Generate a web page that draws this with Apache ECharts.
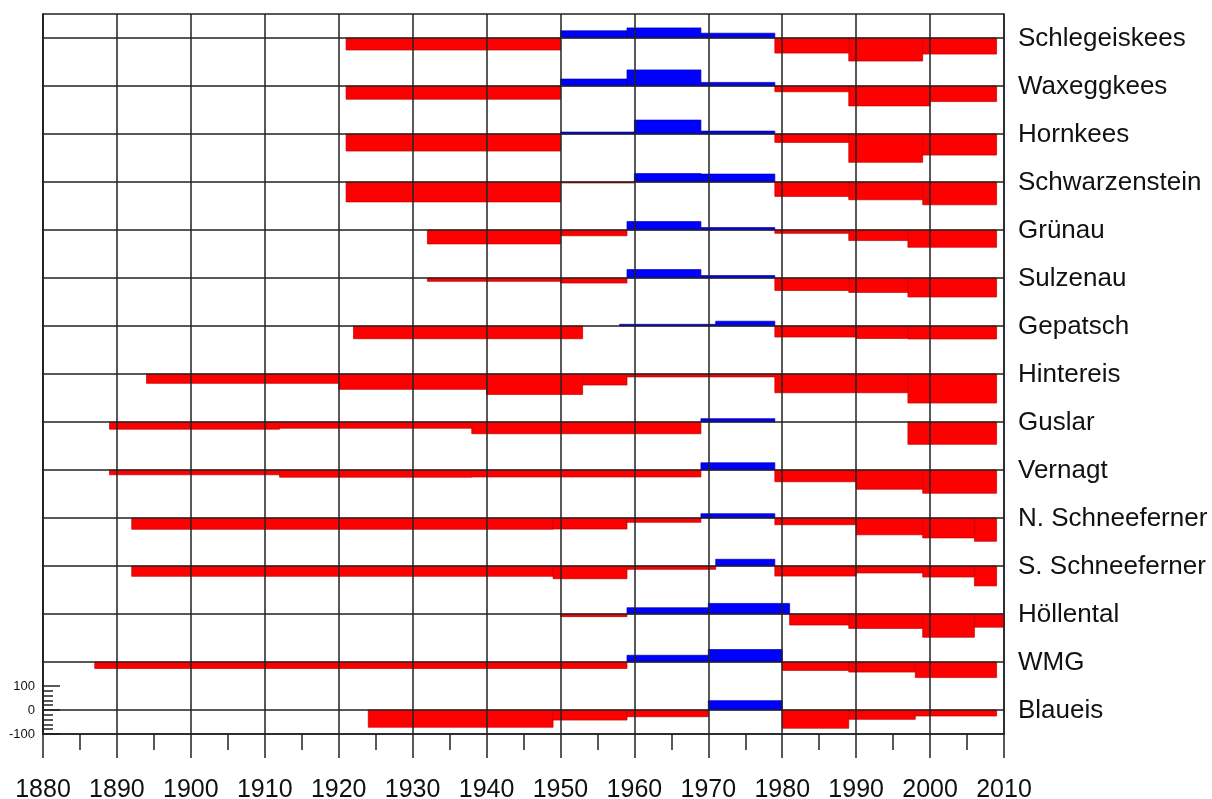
<!DOCTYPE html>
<html><head><meta charset="utf-8">
<script src="https://cdn.jsdelivr.net/npm/echarts@6/dist/echarts.min.js"></script>
<style>html,body{margin:0;padding:0;background:#fff}#c{width:1212px;height:799px}</style>
</head><body><div id="c"></div>
<script>
// Glacier rows, top to bottom
const glaciers = ['Schlegeiskees','Waxeggkees','Hornkees','Schwarzenstein','Grünau','Sulzenau','Gepatsch','Hintereis','Guslar','Vernagt','N. Schneeferner','S. Schneeferner','Höllental','WMG','Blaueis'];

// Periods: [start year, end year, value]
const schlegeiskees = [[1921,1950,-50],[1950,1959,30],[1959,1969,42],[1969,1979,20],[1979,1989,-63],[1989,1999,-96],[1999,2009,-67]];
const waxeggkees = [[1921,1950,-55],[1950,1959,29],[1959,1969,67],[1969,1979,15],[1979,1989,-24],[1989,2000,-83],[2000,2009,-65]];
const hornkees = [[1921,1950,-71],[1950,1960,8],[1960,1969,58],[1969,1979,12],[1979,1989,-35],[1989,1999,-118],[1999,2009,-88]];
const schwarzenstein = [[1921,1950,-83],[1950,1960,-4],[1960,1969,35],[1969,1979,33],[1979,1989,-60],[1989,1999,-74],[1999,2009,-95]];
const gruenau = [[1932,1950,-58],[1950,1959,-24],[1959,1969,35],[1969,1979,10],[1979,1989,-14],[1989,1997,-44],[1997,2009,-72]];
const sulzenau = [[1932,1950,-14],[1950,1959,-21],[1959,1969,35],[1969,1979,10],[1979,1989,-52],[1989,1997,-60],[1997,2009,-79]];
const gepatsch = [[1922,1953,-53],[1958,1971,7],[1971,1979,20],[1979,1990,-46],[1990,1997,-52],[1997,2009,-54]];
const hintereis = [[1894,1920,-39],[1920,1940,-64],[1940,1953,-85],[1953,1959,-46],[1959,1979,-12],[1979,1997,-78],[1997,2009,-121]];
const guslar = [[1889,1912,-30],[1912,1938,-26],[1938,1969,-49],[1969,1979,14],[1997,2000,-93],[2000,2009,-93]];
const vernagt = [[1889,1912,-20],[1912,1938,-30],[1938,1969,-29],[1969,1979,30],[1979,1990,-49],[1990,1999,-80],[1999,2009,-97]];
const nSchneeferner = [[1892,1949,-47],[1949,1959,-46],[1959,1969,-18],[1969,1979,18],[1979,1990,-28],[1990,1999,-70],[1999,2006,-83],[2006,2009,-97]];
const sSchneeferner = [[1892,1949,-43],[1949,1959,-53],[1959,1971,-14],[1971,1979,28],[1979,1990,-42],[1990,1999,-29],[1999,2006,-46],[2006,2009,-83]];
const hoellental = [[1950,1959,-11],[1959,1970,26],[1970,1981,44],[1981,1989,-46],[1989,1999,-60],[1999,2006,-97],[2006,2010,-55]];
const wmg = [[1887,1959,-27],[1959,1970,28],[1970,1980,52],[1980,1989,-35],[1989,1998,-42],[1998,2009,-65]];
const blaueis = [[1924,1949,-72],[1949,1959,-42],[1959,1970,-28],[1970,1980,39],[1980,1989,-76],[1989,1998,-39],[1998,2009,-25]];

const periods = [schlegeiskees,waxeggkees,hornkees,schwarzenstein,gruenau,sulzenau,gepatsch,hintereis,guslar,vernagt,nSchneeferner,sSchneeferner,hoellental,wmg,blaueis];

// Axis settings
const xMin = 1880, xMax = 2010, xStep = 10;
const scaleMin = -100, scaleMax = 100, scaleStep = 100;
const rowStep = 200;

const n = glaciers.length;
const barData = [];
const rowData = [];
periods.forEach((p, i) => {
  const off = (n - 1 - i) * rowStep;
  rowData.push([off, i]);
  p.forEach(d => barData.push([d[0], d[1], d[2], off]));
});

const lineCol = '#222';
const lw = 1.5;
const font = '"Liberation Sans", Arial, sans-serif';

const chart = echarts.init(document.getElementById('c'));
chart.setOption({
  animation: false,
  backgroundColor: '#fff',
  grid: [
    {left: 43, top: 14, right: 208, bottom: 65, outerBoundsMode: 'none', containLabel: false, show: true, borderColor: lineCol, borderWidth: lw, backgroundColor: 'transparent'},
    {left: 43, top: 686, width: 60, height: 48, outerBoundsMode: 'none', containLabel: false}
  ],
  xAxis: [
    {type: 'value', gridIndex: 0, min: xMin, max: xMax, interval: xStep, z: 5,
     axisLine: {show: true, onZero: false, lineStyle: {color: lineCol, width: lw}},
     axisTick: {show: true, length: 24, lineStyle: {color: lineCol, width: lw}},
     minorTick: {show: true, splitNumber: 2, length: 16, lineStyle: {color: lineCol, width: lw}},
     splitLine: {show: true, lineStyle: {color: lineCol, width: lw}},
     axisLabel: {fontSize: 25, color: '#111', fontFamily: font, margin: 44, formatter: v => String(v)}},
    {type: 'value', gridIndex: 1, min: 0, max: 1, show: false}
  ],
  yAxis: [
    {type: 'value', gridIndex: 0, min: -100, max: (n - 1) * rowStep + 100,
     axisLine: {show: true, onZero: false, lineStyle: {color: lineCol, width: lw}},
     axisTick: {show: false}, axisLabel: {show: false}, splitLine: {show: false}},
    {type: 'value', gridIndex: 1, min: scaleMin, max: scaleMax, interval: scaleStep, z: 5,
     axisLine: {show: true, onZero: false, lineStyle: {color: lineCol, width: lw}},
     axisTick: {show: true, inside: true, length: 17, lineStyle: {color: lineCol, width: lw}},
     minorTick: {show: true, splitNumber: 5, length: 10, lineStyle: {color: lineCol, width: lw}},
     splitLine: {show: false},
     axisLabel: {fontSize: 13, color: '#111', fontFamily: font, margin: 8}}
  ],
  series: [
    {
      type: 'custom', xAxisIndex: 0, yAxisIndex: 0, z: 2, clip: false,
      encode: {x: [0, 1], y: 2},
      data: barData,
      renderItem(params, api) {
        const s = api.value(0), e = api.value(1), v = api.value(2), off = api.value(3);
        const p1 = api.coord([s, off]);
        const p2 = api.coord([e, off + v]);
        return {
          type: 'rect',
          shape: {x: p1[0], y: Math.min(p1[1], p2[1]), width: p2[0] - p1[0], height: Math.abs(p2[1] - p1[1])},
          style: {fill: v < 0 ? '#ff0000' : '#0000ff', stroke: v < 0 ? '#c00000' : '#0000b0', lineWidth: 0.7}
        };
      }
    },
    {
      type: 'custom', xAxisIndex: 0, yAxisIndex: 0, z: 10, clip: false,
      encode: {y: 0},
      data: rowData,
      renderItem(params, api) {
        const off = api.value(0), idx = api.value(1);
        const a = api.coord([xMin, off]);
        const b = api.coord([xMax, off]);
        return {
          type: 'group',
          children: [
            {type: 'line', shape: {x1: a[0], y1: a[1], x2: b[0], y2: b[1]}, style: {stroke: lineCol, lineWidth: lw}},
            {type: 'text', x: b[0] + 14, y: b[1] + 1, style: {text: glaciers[idx], fill: '#111', font: '26px ' + font, align: 'left', verticalAlign: 'middle'}}
          ]
        };
      }
    }
  ]
});
</script>
</body></html>
